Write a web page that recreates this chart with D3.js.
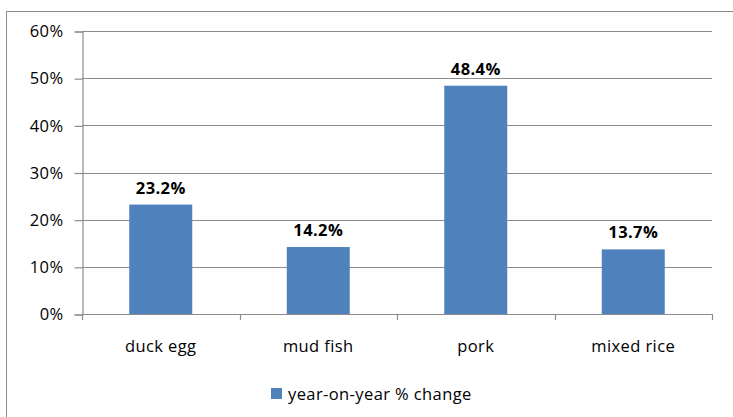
<!DOCTYPE html>
<html>
<head>
<meta charset="utf-8">
<script src="https://cdn.jsdelivr.net/npm/d3@7"></script>
<style>
  html, body { margin: 0; padding: 0; background: #fff; }
  svg { display: block; }
  text { font-family: "Open Sans", "Liberation Sans", sans-serif; fill: #000; letter-spacing: 0.4px; }
</style>
</head>
<body>
<svg id="chart" width="733" height="417"></svg>
<script>
const categories = ["duck egg", "mud fish", "pork", "mixed rice"];
const values = [23.2, 14.2, 48.4, 13.7];
const yTicks = [0, 10, 20, 30, 40, 50, 60];
const seriesName = "year-on-year % change";

const W = 733, H = 417;
const margin = { left: 82, right: 21, top: 31, bottom: 103 };
const svg = d3.select("#chart");
const fontSize = "16.5px";

// outer chart frame
svg.append("rect")
  .attr("x", 6.5).attr("y", 11.5)
  .attr("width", W + 10).attr("height", H + 10)
  .attr("fill", "none").attr("stroke", "#8c8c8c").attr("stroke-width", 1);

const x = d3.scaleBand()
  .domain(categories)
  .range([margin.left, W - margin.right])
  .paddingInner(0.6).paddingOuter(0.3);

const y = d3.scaleLinear()
  .domain([0, 60])
  .range([H - margin.bottom, margin.top]);

const grid = "#8c8c8c";

// horizontal gridlines
svg.append("g")
  .selectAll("line")
  .data(yTicks.filter(t => t > 0))
  .join("line")
  .attr("x1", margin.left).attr("x2", W - margin.right)
  .attr("y1", d => Math.round(y(d)) + 0.5).attr("y2", d => Math.round(y(d)) + 0.5)
  .attr("stroke", grid).attr("stroke-width", 1.2);

// bars
svg.append("g")
  .selectAll("rect")
  .data(values)
  .join("rect")
  .attr("x", (d, i) => x(categories[i]))
  .attr("width", x.bandwidth())
  .attr("y", d => y(d))
  .attr("height", d => y(0) - y(d))
  .attr("fill", "#4f81bd");

// y axis
const yAxis = d3.axisLeft(y)
  .tickValues(yTicks)
  .tickFormat(d => d + "%")
  .tickSize(8)
  .tickPadding(11);
const gy = svg.append("g")
  .attr("transform", `translate(${margin.left + 0.5},0.5)`)
  .call(yAxis);
gy.select(".domain").attr("stroke", grid).attr("stroke-width", 1.2);
gy.selectAll(".tick line").attr("stroke", grid).attr("stroke-width", 1.2);
gy.selectAll(".tick text").style("font-size", fontSize).attr("fill", "#000");

// x axis: ticks on category boundaries
const boundaries = d3.range(categories.length + 1).map(i => margin.left + i * (W - margin.left - margin.right) / categories.length);
const gx = svg.append("g");
gx.append("line")
  .attr("x1", margin.left).attr("x2", W - margin.right)
  .attr("y1", Math.round(y(0)) + 0.5).attr("y2", Math.round(y(0)) + 0.5)
  .attr("stroke", grid).attr("stroke-width", 1.2);
gx.selectAll("line.tk")
  .data(boundaries)
  .join("line")
  .attr("class", "tk")
  .attr("x1", d => Math.round(d) + 0.5).attr("x2", d => Math.round(d) + 0.5)
  .attr("y1", Math.round(y(0))).attr("y2", Math.round(y(0)) + 6)
  .attr("stroke", grid).attr("stroke-width", 1.2);
gx.selectAll("text")
  .data(categories)
  .join("text")
  .attr("x", d => x(d) + x.bandwidth() / 2)
  .attr("y", 352)
  .attr("text-anchor", "middle")
  .style("font-size", fontSize)
  .text(d => d);

// value labels
svg.append("g")
  .selectAll("text")
  .data(values)
  .join("text")
  .attr("x", (d, i) => x(categories[i]) + x.bandwidth() / 2)
  .attr("y", d => y(d) - 11)
  .attr("text-anchor", "middle")
  .style("font-size", fontSize)
  .style("font-weight", "bold")
  .text(d => d.toFixed(1) + "%");

// legend
const lg = svg.append("g").attr("transform", "translate(271,388)");
lg.append("rect").attr("width", 11).attr("height", 11).attr("fill", "#4f81bd");
lg.append("text").attr("x", 17).attr("y", 12).style("font-size", fontSize).text(seriesName);
</script>
</body>
</html>
